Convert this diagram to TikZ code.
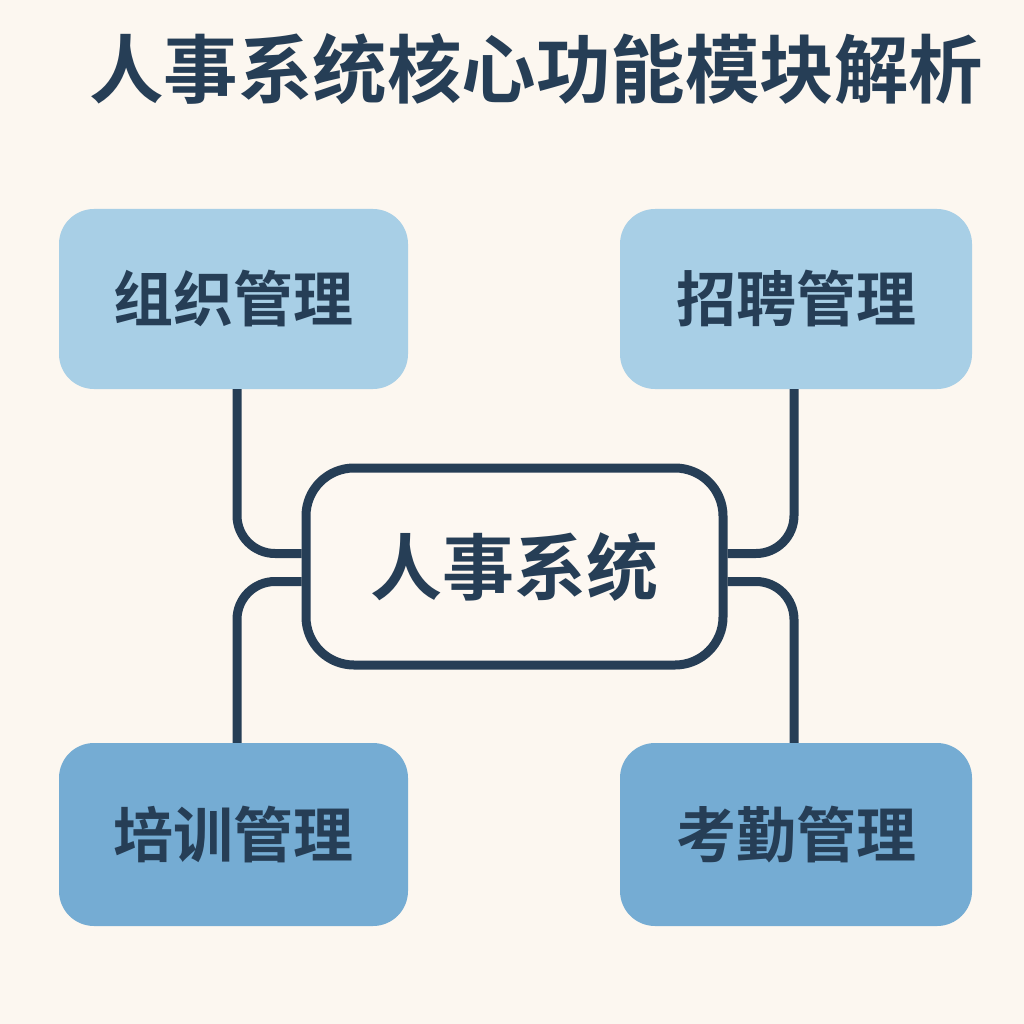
\documentclass[tikz,border=0pt]{standalone}
\usepackage{fontspec}
\newfontfamily\cjkb{Noto Sans CJK SC Bold}
\usetikzlibrary{calc}
\definecolor{bgc}{HTML}{FCF7F0}
\definecolor{navy}{HTML}{263E56}
\definecolor{lblue}{HTML}{A8CFE6}
\definecolor{mblue}{HTML}{75ACD3}
\definecolor{cfill}{HTML}{FDF8F2}
\tikzset{
  modbox/.style={rounded corners=35pt, minimum height=180pt, inner sep=0pt, text=navy, font=\cjkb\fontsize{60}{60}\selectfont},
  hubbox/.style={draw=navy, line width=9pt, fill=cfill, rounded corners=48pt, minimum width=417pt, minimum height=197pt, inner sep=0pt, text=navy, font=\cjkb\fontsize{72}{72}\selectfont},
  link/.style={draw=navy, line width=9pt, rounded corners=38pt},
  titletext/.style={text=navy, font=\cjkb\fontsize{74.5}{74.5}\selectfont, inner sep=0pt}
}
\begin{document}
\begin{tikzpicture}[x=1pt,y=-1pt]
\fill[bgc] (0,0) rectangle (1024,1024);
\useasboundingbox (0,0) rectangle (1024,1024);
\node[titletext] (title) at (536,69) {人事系统核心功能模块解析};
\node[modbox, fill=lblue, minimum width=349pt] (tl) at (233.5,299) {组织管理};
\node[modbox, fill=lblue, minimum width=352pt] (tr) at (796,299) {招聘管理};
\node[modbox, fill=mblue, minimum width=349pt, minimum height=183pt] (bl) at (233.5,834.5) {培训管理};
\node[modbox, fill=mblue, minimum width=352pt, minimum height=183pt] (br) at (796,834.5) {考勤管理};
\node[hubbox] (c) at (514.5,566.5) {人事系统};
\draw[link] ([xshift=3.5pt]tl.south) |- ($(c.west)+(0,-13)$);
\draw[link] ([xshift=3.5pt]bl.north) |- ($(c.west)+(0,15)$);
\draw[link] ([xshift=-2pt]tr.south) |- ($(c.east)+(0,-13)$);
\draw[link] ([xshift=-2pt]br.north) |- ($(c.east)+(0,15)$);
\end{tikzpicture}
\end{document}
